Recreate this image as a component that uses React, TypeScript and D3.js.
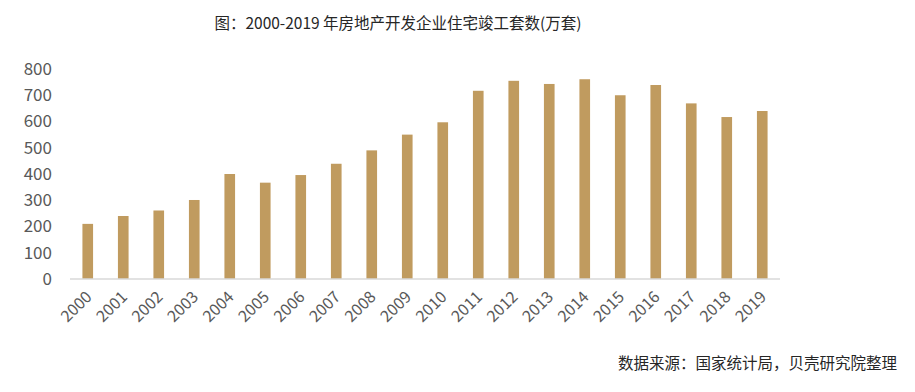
import React from 'react'
import * as d3 from 'd3'

const years = [
  '2000', '2001', '2002', '2003', '2004', '2005', '2006', '2007', '2008', '2009',
  '2010', '2011', '2012', '2013', '2014', '2015', '2016', '2017', '2018', '2019',
]
const completed = [
  210, 240, 261, 301, 400, 367, 396, 439, 490, 550,
  597, 717, 755, 743, 761, 700, 739, 669, 617, 640,
]
const yTicks = [0, 100, 200, 300, 400, 500, 600, 700, 800]
const title = '图：2000-2019 年房地产开发企业住宅竣工套数(万套)'
const source = '数据来源：国家统计局，贝壳研究院整理'

const width = 915
const height = 392
const left = 70
const right = 780
const top = 69
const bottom = 279
const barColor = '#C09B5F'
const font = '"Noto Sans CJK SC", "Noto Sans", sans-serif'

const App = () => {
  const x = d3.scaleBand().domain(years).range([left, right]).paddingInner(0.7).paddingOuter(0.35)
  const y = d3.scaleLinear().domain([0, 800]).range([bottom, top])

  return (
    <svg
      width={width}
      height={height}
      style={{ position: 'absolute', left: 0, top: 0, background: '#fff' }}
      fontFamily={font}
    >
      <text x={398} y={29} textAnchor="middle" fontSize={15.5} fill="#262626">
        {title}
      </text>

      <g>
        {yTicks.map((t) => (
          <text
            key={t}
            x={52}
            y={y(t)}
            dy="0.35em"
            textAnchor="end"
            fontSize={17}
            fill="#595959"
          >
            {t}
          </text>
        ))}
      </g>

      <g>
        {years.map((yr, i) => (
          <rect
            key={yr}
            x={x(yr)}
            y={y(completed[i])}
            width={x.bandwidth()}
            height={bottom - y(completed[i])}
            fill={barColor}
          />
        ))}
      </g>

      <line x1={left} x2={right} y1={bottom} y2={bottom} stroke="#D9D9D9" strokeWidth={1.5} />

      <g>
        {years.map((yr) => {
          const cx = (x(yr) ?? 0) + x.bandwidth() / 2 + 1
          const cy = bottom + 15
          return (
            <text
              key={yr}
              x={cx}
              y={cy}
              dy="0.35em"
              textAnchor="end"
              fontSize={16}
              fill="#595959"
              transform={`rotate(-45, ${cx}, ${cy})`}
            >
              {yr}
            </text>
          )
        })}
      </g>

      <text x={897} y={369} textAnchor="end" fontSize={15.5} fill="#262626">
        {source}
      </text>
    </svg>
  )
}

export default App
